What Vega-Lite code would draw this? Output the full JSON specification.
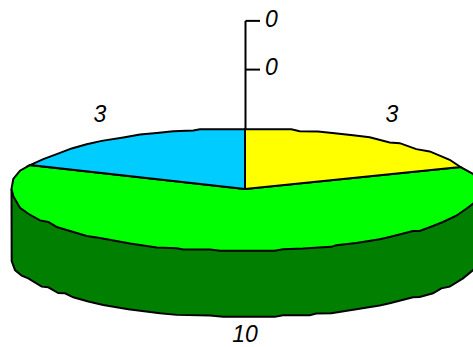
{"$schema":"https://vega.github.io/schema/vega-lite/v6.json","width":473,"height":347,"padding":0,"autosize":{"type":"fit","contains":"padding"},"view":{"stroke":null},"background":"white",
"datasets":{"outline":[
{"part":"side","i":1,"x":11.5,"y":190},{"part":"side","i":2,"x":479,"y":190},{"part":"side","i":3,"x":479,"y":262},{"part":"side","i":4,"x":477,"y":266},{"part":"side","i":5,"x":473,"y":271.7},{"part":"side","i":6,"x":463,"y":280},{"part":"side","i":7,"x":449.7,"y":288.3},{"part":"side","i":8,"x":441.3,"y":290},{"part":"side","i":9,"x":433,"y":295},{"part":"side","i":10,"x":419.7,"y":298.7},{"part":"side","i":11,"x":413,"y":299},{"part":"side","i":12,"x":389.7,"y":305},{"part":"side","i":13,"x":379.7,"y":307.3},{"part":"side","i":14,"x":356.3,"y":311},{"part":"side","i":15,"x":331.3,"y":315},{"part":"side","i":16,"x":316.3,"y":315.3},{"part":"side","i":17,"x":309.7,"y":317},{"part":"side","i":18,"x":283,"y":317},{"part":"side","i":19,"x":274.7,"y":318.7},{"part":"side","i":20,"x":223.3,"y":318.7},{"part":"side","i":21,"x":210,"y":317.3},{"part":"side","i":22,"x":176.7,"y":316.7},{"part":"side","i":23,"x":160,"y":315},{"part":"side","i":24,"x":128.3,"y":311},{"part":"side","i":25,"x":103.3,"y":306.7},{"part":"side","i":26,"x":88.3,"y":303.3},{"part":"side","i":27,"x":73.3,"y":299},{"part":"side","i":28,"x":65,"y":295},{"part":"side","i":29,"x":58.3,"y":294.7},{"part":"side","i":30,"x":48.3,"y":289},{"part":"side","i":31,"x":41.7,"y":288.3},{"part":"side","i":32,"x":28.3,"y":280},{"part":"side","i":33,"x":21.7,"y":277.3},{"part":"side","i":34,"x":15,"y":271.7},{"part":"side","i":35,"x":11.7,"y":262.7},{"part":"side","i":36,"x":11.5,"y":190},
{"part":"blue","i":1,"x":245,"y":190},{"part":"blue","i":2,"x":30,"y":166},{"part":"blue","i":3,"x":43.3,"y":160},{"part":"blue","i":4,"x":56.7,"y":155},{"part":"blue","i":5,"x":71.7,"y":149.3},{"part":"blue","i":6,"x":86.7,"y":145},{"part":"blue","i":7,"x":101.7,"y":141.7},{"part":"blue","i":8,"x":123.3,"y":138.3},{"part":"blue","i":9,"x":140,"y":135.3},{"part":"blue","i":10,"x":156.7,"y":133.7},{"part":"blue","i":11,"x":173.3,"y":132},{"part":"blue","i":12,"x":193.3,"y":131.3},{"part":"blue","i":13,"x":200,"y":130},{"part":"blue","i":14,"x":245,"y":130},{"part":"blue","i":15,"x":245,"y":190},
{"part":"yellow","i":1,"x":245,"y":190},{"part":"yellow","i":2,"x":245,"y":130},{"part":"yellow","i":3,"x":291.3,"y":130},{"part":"yellow","i":4,"x":299.7,"y":132},{"part":"yellow","i":5,"x":318,"y":132.3},{"part":"yellow","i":6,"x":334.7,"y":134},{"part":"yellow","i":7,"x":353,"y":136},{"part":"yellow","i":8,"x":369.7,"y":138},{"part":"yellow","i":9,"x":389.7,"y":143.3},{"part":"yellow","i":10,"x":399.7,"y":144},{"part":"yellow","i":11,"x":416.3,"y":150},{"part":"yellow","i":12,"x":429.7,"y":152.3},{"part":"yellow","i":13,"x":449.7,"y":160.7},{"part":"yellow","i":14,"x":460.5,"y":168},{"part":"yellow","i":15,"x":245,"y":190},
{"part":"green","i":1,"x":245,"y":190},{"part":"green","i":2,"x":30,"y":166},{"part":"green","i":3,"x":20,"y":171.7},{"part":"green","i":4,"x":13.3,"y":180},{"part":"green","i":5,"x":11.5,"y":190},{"part":"green","i":6,"x":13.3,"y":197.3},{"part":"green","i":7,"x":20,"y":209},{"part":"green","i":8,"x":28.3,"y":215},{"part":"green","i":9,"x":40,"y":221.7},{"part":"green","i":10,"x":48.3,"y":223.3},{"part":"green","i":11,"x":56.7,"y":228.3},{"part":"green","i":12,"x":86.7,"y":237.3},{"part":"green","i":13,"x":100,"y":239.3},{"part":"green","i":14,"x":130,"y":245},{"part":"green","i":15,"x":156.7,"y":249},{"part":"green","i":16,"x":176.7,"y":249.7},{"part":"green","i":17,"x":183.3,"y":251},{"part":"green","i":18,"x":210,"y":251},{"part":"green","i":19,"x":220,"y":252.3},{"part":"green","i":20,"x":274.7,"y":252.3},{"part":"green","i":21,"x":283,"y":250.7},{"part":"green","i":22,"x":303,"y":250},{"part":"green","i":23,"x":331.3,"y":248.3},{"part":"green","i":24,"x":336.3,"y":246.7},{"part":"green","i":25,"x":356.3,"y":244.3},{"part":"green","i":26,"x":379.7,"y":240.7},{"part":"green","i":27,"x":389.7,"y":238.3},{"part":"green","i":28,"x":413,"y":232.3},{"part":"green","i":29,"x":419.7,"y":232.3},{"part":"green","i":30,"x":433,"y":227.3},{"part":"green","i":31,"x":443,"y":223.3},{"part":"green","i":32,"x":456.3,"y":217},{"part":"green","i":33,"x":466.3,"y":210},{"part":"green","i":34,"x":473,"y":205},{"part":"green","i":35,"x":479,"y":198},{"part":"green","i":36,"x":479,"y":182},{"part":"green","i":37,"x":473,"y":175},{"part":"green","i":38,"x":460.5,"y":168},{"part":"green","i":39,"x":245,"y":190}
],
"axisLines":[{"x":245.5,"x2":245.5,"y":21,"y2":130},{"x":245.5,"x2":260,"y":21,"y2":21},{"x":245.5,"x2":260,"y":70,"y2":70}],
"labels":[{"label":"0","x":271.5,"y":20},{"label":"0","x":271.5,"y":68},{"label":"3","x":100,"y":116},{"label":"3","x":392,"y":116},{"label":"10","x":245,"y":337}]},
"layer":[
{"data":{"name":"outline"},"transform":[{"filter":"datum.part==='side'"}],"mark":{"type":"line","fill":"#007f00","stroke":"black","strokeWidth":2,"clip":true,"interpolate":"linear"},"encoding":{"x":{"field":"x","type":"quantitative","scale":{"domain":[0,473],"nice":false},"axis":null},"y":{"field":"y","type":"quantitative","scale":{"domain":[347,0],"nice":false},"axis":null},"order":{"field":"i","type":"quantitative"}}},
{"data":{"name":"outline"},"transform":[{"filter":"datum.part==='green'"}],"mark":{"type":"line","fill":"#00ff00","stroke":"black","strokeWidth":2,"clip":true},"encoding":{"x":{"field":"x","type":"quantitative"},"y":{"field":"y","type":"quantitative"},"order":{"field":"i","type":"quantitative"}}},
{"data":{"name":"outline"},"transform":[{"filter":"datum.part==='blue'"}],"mark":{"type":"line","fill":"#00ccff","stroke":"black","strokeWidth":2,"clip":true},"encoding":{"x":{"field":"x","type":"quantitative"},"y":{"field":"y","type":"quantitative"},"order":{"field":"i","type":"quantitative"}}},
{"data":{"name":"outline"},"transform":[{"filter":"datum.part==='yellow'"}],"mark":{"type":"line","fill":"#ffff00","stroke":"black","strokeWidth":2,"clip":true},"encoding":{"x":{"field":"x","type":"quantitative"},"y":{"field":"y","type":"quantitative"},"order":{"field":"i","type":"quantitative"}}},
{"data":{"name":"axisLines"},"mark":{"type":"rule","stroke":"black","strokeWidth":2},"encoding":{"x":{"field":"x","type":"quantitative"},"x2":{"field":"x2"},"y":{"field":"y","type":"quantitative"},"y2":{"field":"y2"}}},
{"data":{"name":"labels"},"mark":{"type":"text","font":"Liberation Sans","fontStyle":"italic","fontSize":23,"align":"center","baseline":"middle","fill":"black"},"encoding":{"x":{"field":"x","type":"quantitative"},"y":{"field":"y","type":"quantitative"},"text":{"field":"label"}}}
]}
